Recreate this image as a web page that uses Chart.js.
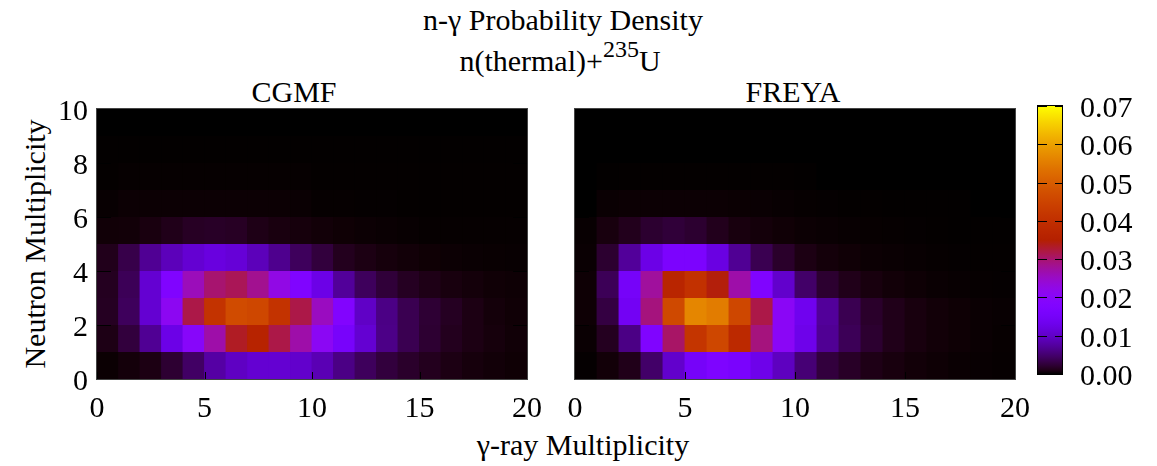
<!DOCTYPE html>
<html>
<head>
<meta charset="utf-8">
<script src="https://cdn.jsdelivr.net/npm/chart.js@4.4.1/dist/chart.umd.min.js"></script>
<style>
  html, body { margin: 0; padding: 0; background: #fff; }
  body { width: 1157px; height: 466px; position: relative; overflow: hidden; color: #000; }
  .txt { position: absolute; font-family: 'Liberation Serif', serif; font-size: 30px; line-height: 30px;
         white-space: nowrap; transform: translateX(-50%); }
  .txt .sup { font-size: 24px; position: relative; top: -14px; }
  .ytitle { transform: translate(-50%, -50%) rotate(-90deg); }
  .right { transform: translateX(-100%); }
  .left { transform: none; }
  canvas { position: absolute; }
</style>
</head>
<body>
<div class="txt" style="left:563px; top:5px">n-γ Probability Density</div>
<div class="txt" style="left:560px; top:46px">n(thermal)+<span class="sup">235</span>U</div>
<div class="txt" style="left:294px; top:77px">CGMF</div>
<div class="txt" style="left:793px; top:77px">FREYA</div>
<div class="txt" style="left:583px; top:430px">γ-ray Multiplicity</div>
<div class="txt ytitle" style="left:35px; top:244px">Neutron Multiplicity</div>

<canvas id="cgmf" width="545" height="346" style="left:0px; top:94px"></canvas>
<canvas id="freya" width="490" height="346" style="left:545px; top:94px"></canvas>
<canvas id="cbar" width="127" height="346" style="left:1028px; top:94px"></canvas>

<script>
// bins: gamma multiplicity (columns) and neutron multiplicity (rows)
const gammaBins = [0, 1, 2, 3, 4, 5, 6, 7, 8, 9, 10, 11, 12, 13, 14, 15, 16, 17, 18, 19];
const neutronBins = [0, 1, 2, 3, 4, 5, 6, 7, 8, 9];
const gammaTicks = [0, 5, 10, 15, 20];
const neutronTicks = [0, 2, 4, 6, 8, 10];
const cbTicks = [0, 0.01, 0.02, 0.03, 0.04, 0.05, 0.06, 0.07];
const cbMax = 0.07;

// probability per cell, one row per neutron multiplicity (row 0 = 0 neutrons)
const cgmf = [
  [0.00012, 0.00043, 0.00084, 0.0022, 0.0045, 0.0078, 0.0097, 0.0108, 0.0108, 0.0103, 0.0087, 0.0061, 0.0041, 0.0027, 0.0019, 0.0013, 0.00084, 0.00052, 0.00035, 0.00024],
  [0.0009, 0.0027, 0.0069, 0.0126, 0.0196, 0.0269, 0.0334, 0.0361, 0.0318, 0.0269, 0.0208, 0.0155, 0.0108, 0.0062, 0.0036, 0.0022, 0.0013, 0.00084, 0.00052, 0.00031],
  [0.0015, 0.0041, 0.0108, 0.0211, 0.0318, 0.0409, 0.0466, 0.0457, 0.0409, 0.0318, 0.0255, 0.0182, 0.0099, 0.0061, 0.0036, 0.0023, 0.0015, 0.00084, 0.00043, 0.00028],
  [0.0014, 0.0039, 0.0108, 0.0176, 0.0259, 0.0300, 0.0311, 0.0283, 0.0226, 0.0176, 0.0126, 0.0072, 0.0041, 0.0025, 0.0015, 0.00097, 0.00062, 0.00043, 0.00028, 0.00021],
  [0.0012, 0.0033, 0.0069, 0.0091, 0.0108, 0.0119, 0.0112, 0.0091, 0.0066, 0.0041, 0.0027, 0.0013, 0.00084, 0.00052, 0.00035, 0.00024, 0.00016, 0.00011, 0.00009, 0.00007],
  [0.0003, 0.00035, 0.00067, 0.0011, 0.0016, 0.0017, 0.0016, 0.00097, 0.00067, 0.00052, 0.00035, 0.00024, 0.00016, 0.00011, 0.00007, 0.00004, 0.00004, 0.00004, 0.00004, 0.00004],
  [0.00007, 0.00016, 0.00016, 0.00016, 0.00016, 0.00016, 0.00016, 0.00016, 0.00016, 0.00011, 0.00004, 0.00004, 0.00003, 0.00003, 0.00002, 0.00002, 0.00002, 0.00002, 0.00002, 0.00002],
  [0.00002, 0.00004, 0.00004, 0.00004, 0.00004, 0.00004, 0.00004, 0.00004, 0.00004, 0.00004, 0.00002, 0.00002, 0.00002, 0.00002, 0.00002, 0.00002, 0.00002, 0.00002, 0.00002, 0.00002],
  [0.00001, 0.00001, 0.00001, 0.00001, 0.00001, 0.00001, 0.00001, 0.00001, 0.00001, 0.00001, 0.00001, 0.00001, 0.00001, 0.00001, 0.00001, 0.00001, 0.00001, 0.00001, 0.00001, 0.00001],
  [0, 0, 0, 0, 0, 0, 0, 0, 0, 0, 0, 0, 0, 0, 0, 0, 0, 0, 0, 0]
];

const freya = [
  [0.00003, 0.00035, 0.0011, 0.0047, 0.0103, 0.0150, 0.0171, 0.0160, 0.0130, 0.0095, 0.0053, 0.0027, 0.0017, 0.00097, 0.00062, 0.00035, 0.00021, 0.00011, 0.00007, 0.00004],
  [0.00011, 0.0014, 0.0061, 0.0176, 0.0304, 0.0414, 0.0457, 0.0380, 0.0293, 0.0205, 0.0130, 0.0069, 0.0039, 0.0021, 0.0011, 0.00062, 0.00035, 0.00021, 0.00011, 0.00005],
  [0.00021, 0.0029, 0.0142, 0.0293, 0.0461, 0.0565, 0.0550, 0.0457, 0.0318, 0.0205, 0.0135, 0.0072, 0.0036, 0.0019, 0.0011, 0.00062, 0.00035, 0.00021, 0.00011, 0.00007],
  [0.00021, 0.0039, 0.0150, 0.0276, 0.0368, 0.0405, 0.0345, 0.0269, 0.0176, 0.0103, 0.0047, 0.0021, 0.0011, 0.00062, 0.00035, 0.00021, 0.00011, 0.00007, 0.00004, 0.00003],
  [0.00011, 0.0021, 0.0072, 0.0126, 0.0166, 0.0166, 0.0121, 0.0069, 0.0036, 0.0019, 0.00084, 0.00043, 0.00028, 0.00016, 0.00011, 0.00007, 0.00004, 0.00003, 0.00002, 0.00002],
  [0.00007, 0.00062, 0.00124, 0.0021, 0.0025, 0.0021, 0.00124, 0.00062, 0.00043, 0.00028, 0.00016, 0.00011, 0.00007, 0.00005, 0.00004, 0.00003, 0.00002, 0.00001, 0.00001, 0.00001],
  [0, 0.00011, 0.00016, 0.00016, 0.00016, 0.00016, 0.00016, 0.00013, 0.00011, 0.00007, 0.00004, 0.00003, 0.00002, 0.00002, 0.00001, 0.00001, 0.00001, 0.00001, 0, 0],
  [0, 0.00001, 0.00002, 0.00002, 0.00002, 0.00002, 0.00002, 0.00002, 0.00002, 0.00002, 0.00001, 0, 0, 0, 0, 0, 0, 0, 0, 0],
  [0, 0, 0, 0, 0, 0, 0, 0, 0, 0, 0, 0, 0, 0, 0, 0, 0, 0, 0, 0],
  [0, 0, 0, 0, 0, 0, 0, 0, 0, 0, 0, 0, 0, 0, 0, 0, 0, 0, 0, 0]
];

// black-blue-violet-red-yellow (sqrt, cube, sine)
function palette(t) {
  t = Math.min(1, Math.max(0, t));
  const r = Math.sqrt(t);
  const g = t * t * t;
  const b = Math.max(0, Math.sin(2 * Math.PI * t));
  return 'rgb(' + Math.round(r * 255) + ',' + Math.round(g * 255) + ',' + Math.round(b * 255) + ')';
}

// tick labels as page text, placed from the chart's own scales
function addLabel(text, x, y, cls) {
  const el = document.createElement('div');
  el.className = 'txt' + (cls ? ' ' + cls : '');
  el.textContent = text;
  el.style.left = x + 'px';
  el.style.top = y + 'px';
  document.body.appendChild(el);
}

function canvasOffset(chart) {
  const c = chart.canvas;
  return { left: parseFloat(c.style.left), top: parseFloat(c.style.top) };
}

// border plus inward tick marks
const frame = {
  id: 'frame',
  beforeDatasetsDraw(chart) {
    const { ctx, chartArea: a } = chart;
    ctx.save();
    ctx.fillStyle = '#000';
    ctx.fillRect(a.left, a.top, a.width, a.height);
    ctx.restore();
  },
  afterDatasetsDraw(chart) {
    const { ctx, chartArea: a, scales: { x, y } } = chart;
    ctx.save();
    ctx.strokeStyle = '#000';
    ctx.lineWidth = 1;
    ctx.beginPath();
    gammaTicks.forEach(v => {
      const px = Math.round(x.getPixelForValue(v)) + 0.5;
      ctx.moveTo(px, a.bottom); ctx.lineTo(px, a.bottom - 7);
      ctx.moveTo(px, a.top); ctx.lineTo(px, a.top + 7);
    });
    neutronTicks.forEach(v => {
      const py = Math.round(y.getPixelForValue(v)) + 0.5;
      ctx.moveTo(a.left, py); ctx.lineTo(a.left + 14, py);
      ctx.moveTo(a.right, py); ctx.lineTo(a.right - 14, py);
    });
    ctx.stroke();
    ctx.strokeStyle = '#444';
    ctx.strokeRect(a.left - 0.5, a.top - 0.5, a.width + 1, a.height + 1);
    ctx.restore();
  }
};

function heatmap(canvasId, rows, padding, showY) {
  const datasets = neutronBins.map((n, j) => ({
    data: gammaBins.map((g, i) => ({ x: g + 0.5, y: [n, n + 1], v: rows[j][i] })),
    backgroundColor: ctx => palette(ctx.raw.v / cbMax),
    borderWidth: 0,
    categoryPercentage: 1,
    barPercentage: 1.04,
    grouped: false
  }));

  const chart = new Chart(document.getElementById(canvasId), {
    type: 'bar',
    data: { datasets },
    options: {
      responsive: false,
      animation: false,
      events: [],
      layout: { padding },
      plugins: { legend: { display: false }, tooltip: { enabled: false } },
      scales: {
        x: {
          type: 'linear', min: 0, max: 20, offset: false,
          grid: { display: false }, border: { display: false },
          afterBuildTicks: s => { s.ticks = gammaTicks.map(v => ({ value: v })); },
          afterFit: s => { s.height = 61; },
          ticks: { display: false }
        },
        y: {
          type: 'linear', min: 0, max: 10, display: showY,
          grid: { display: false }, border: { display: false },
          afterBuildTicks: s => { s.ticks = neutronTicks.map(v => ({ value: v })); },
          afterFit: s => { if (showY) s.width = 97; },
          ticks: { display: false }
        }
      }
    },
    plugins: [frame]
  });

  const off = canvasOffset(chart);
  const { x, y } = chart.scales;
  const a = chart.chartArea;
  gammaTicks.forEach(v => addLabel(String(v), off.left + x.getPixelForValue(v), off.top + a.bottom + 13));
  if (showY) {
    neutronTicks.forEach(v => addLabel(String(v), off.left + a.left - 9, off.top + y.getPixelForValue(v) - 14, 'right'));
  }
  return chart;
}

// colour scale
function scaleGradient(chart) {
  const { ctx, chartArea, scales } = chart;
  if (!chartArea) return '#000';
  const y0 = scales.y.getPixelForValue(0);
  const y1 = scales.y.getPixelForValue(cbMax);
  const grad = ctx.createLinearGradient(0, y0, 0, y1);
  for (let k = 0; k <= 64; k++) grad.addColorStop(k / 64, palette(k / 64));
  return grad;
}

const cbarFrame = {
  id: 'cbarFrame',
  afterDatasetsDraw(chart) {
    const { ctx, chartArea: a, scales: { y } } = chart;
    ctx.save();
    ctx.strokeStyle = '#000';
    ctx.lineWidth = 1;
    ctx.beginPath();
    cbTicks.forEach(v => {
      const py = Math.round(y.getPixelForValue(v)) + 0.5;
      ctx.moveTo(a.left, py); ctx.lineTo(a.left + 9, py);
      ctx.moveTo(a.right, py); ctx.lineTo(a.right - 7, py);
    });
    ctx.stroke();
    ctx.strokeRect(a.left - 0.5, a.top - 0.5, a.width + 1, a.height + 1);
    ctx.restore();
  }
};

function colorbar() {
  const chart = new Chart(document.getElementById('cbar'), {
    type: 'bar',
    data: {
      labels: [''],
      datasets: [{
        data: [[cbTicks[0], cbMax]],
        backgroundColor: ctx => scaleGradient(ctx.chart),
        borderWidth: 0,
        categoryPercentage: 1,
        barPercentage: 1
      }]
    },
    options: {
      responsive: false,
      animation: false,
      events: [],
      layout: { padding: { top: 12, right: 0, bottom: 66, left: 10 } },
      plugins: { legend: { display: false }, tooltip: { enabled: false } },
      scales: {
        x: { display: false },
        y: {
          position: 'right', min: 0, max: cbMax,
          grid: { display: false }, border: { display: false },
          afterBuildTicks: s => { s.ticks = cbTicks.map(v => ({ value: v })); },
          afterFit: s => { s.width = 93; },
          ticks: { display: false }
        }
      }
    },
    plugins: [cbarFrame]
  });

  const off = canvasOffset(chart);
  const a = chart.chartArea;
  cbTicks.forEach(v => addLabel(v.toFixed(2), off.left + a.right + 18, off.top + chart.scales.y.getPixelForValue(v) - 14, 'left'));
  return chart;
}

heatmap('cgmf', cgmf, { top: 15, right: 18, bottom: 0, left: 0 }, true);
heatmap('freya', freya, { top: 15, right: 20, bottom: 0, left: 30 }, false);
colorbar();
</script>
</body>
</html>
